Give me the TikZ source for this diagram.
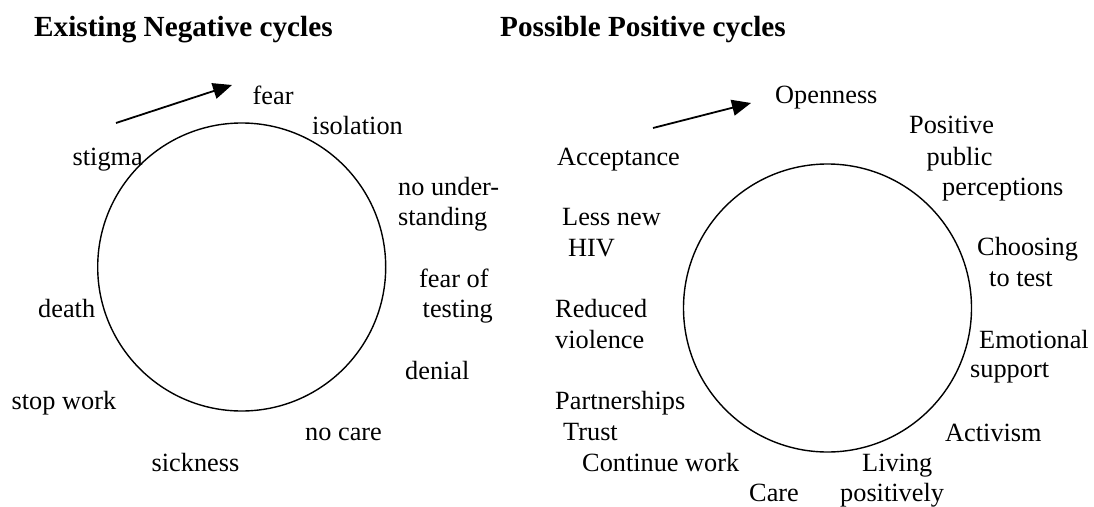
\documentclass[tikz,border=0pt]{standalone}
\usepackage{fontspec}
\setmainfont{Liberation Serif}
\usetikzlibrary{arrows.meta}

\begin{document}
\begin{tikzpicture}[x=1pt,y=-1pt]
% Define common styles
\tikzset{
    ring/.style={draw, circle, line width=1.4pt, inner sep=0pt, minimum size=288pt},
    word/.style={anchor=base west, inner sep=0pt, font=\fontsize{26.3}{30}\selectfont},
    heading/.style={anchor=base west, inner sep=0pt, font=\fontsize{29.2}{33}\selectfont\bfseries},
    arrow/.style={-{Triangle[length=19pt,width=16pt]}, line width=1.8pt}
}
\useasboundingbox (0,0) rectangle (1094,506);

% Titles
\node[heading] (negtitle) at (34,36) {Existing Negative cycles};
\node[heading] (postitle) at (500,36) {Possible Positive cycles};

% Existing Negative cycles (Left Side)
\node[ring] (negring) at (241.7,267) {};

\coordinate (negtail) at (116,123);
\coordinate (neghead) at (232,85);
\draw[arrow] (negtail) -- (neghead);

\node[word] (fear) at (252.5,104) {fear};
\node[word] (isolation) at (312,134) {isolation};
\node[word] (stigma) at (72.5,165) {stigma};
\node[word] (nounder) at (398,195) {no under-};
\node[word] (standing) at (398,225) {standing};
\node[word] (fearof) at (419,287) {fear of};
\node[word] (testing) at (422.5,317) {testing};
\node[word] (death) at (38,317) {death};
\node[word] (denial) at (405,379) {denial};
\node[word] (stopwork) at (11.5,409) {stop work};
\node[word] (nocare) at (305,440) {no care};
\node[word] (sickness) at (151.5,471) {sickness};

% Possible Positive cycles (Right Side)
\node[ring] (posring) at (827.5,308) {};

\coordinate (postail) at (653,128);
\coordinate (poshead) at (751,103);
\draw[arrow] (postail) -- (poshead);

\node[word] (openness) at (775,103) {Openness};
\node[word] (positive) at (909,133) {Positive};
\node[word] (public) at (926.5,165) {public};
\node[word] (perceptions) at (942,195) {perceptions};
\node[word] (acceptance) at (557,165) {Acceptance};
\node[word] (lessnew) at (562,225) {Less new};
\node[word] (hiv) at (568,256) {HIV};
\node[word] (choosing) at (977,255) {Choosing};
\node[word] (totest) at (989,286) {to test};
\node[word] (reduced) at (555,317) {Reduced};
\node[word] (violence) at (555,348) {violence};
\node[word] (emotional) at (979,348) {Emotional};
\node[word] (support) at (970,377) {support};
\node[word] (partnerships) at (555,409) {Partnerships};
\node[word] (trust) at (563,440) {Trust};
\node[word] (activism) at (945,441) {Activism};
\node[word] (continuework) at (582,471) {Continue work};
\node[word] (living) at (862,471) {Living};
\node[word] (care) at (749,501) {Care};
\node[word] (positively) at (840,501) {positively};

\end{tikzpicture}
\end{document}
